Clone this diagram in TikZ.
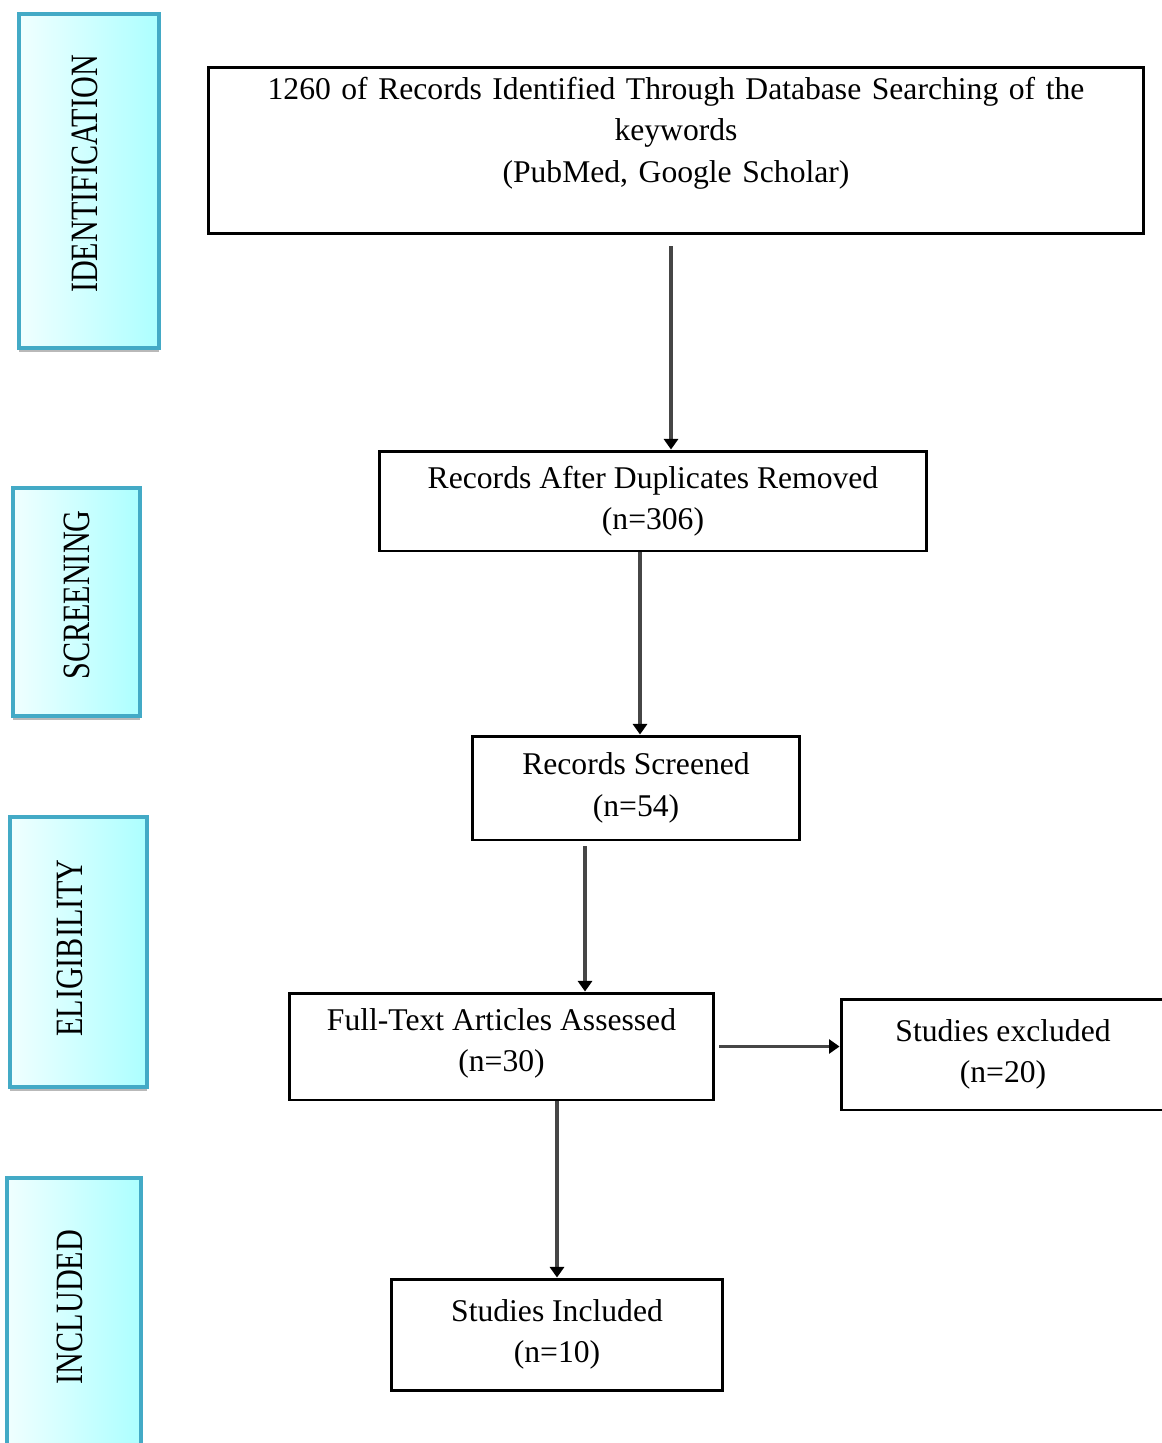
\documentclass[tikz,border=0pt]{standalone}
\usepackage{fontspec}
\setmainfont{Liberation Serif}
\usetikzlibrary{arrows.meta,shadows}
\definecolor{phaseline}{RGB}{67,170,198}
\definecolor{phaselight}{RGB}{240,255,255}
\definecolor{phasedark}{RGB}{172,255,255}
\tikzset{
	stagebox/.style={draw=black, line width=1.7pt, align=center, inner sep=0pt, font=\fontsize{18}{23.5}\selectfont},
	phasebox/.style={draw=phaseline, line width=2.2pt, left color=phaselight, right color=phasedark, drop shadow={shadow xshift=0pt, shadow yshift=-2.5pt, fill=gray!55, opacity=1}, inner sep=0pt},
	phasetext/.style={rotate=90, inner sep=0pt, font=\fontsize{22}{22}\selectfont},
	flow/.style={line width=2pt, draw=gray!55!black, -{Triangle[length=6pt,width=8pt,color=black]}},
}
\newcommand{\phasename}[1]{\scalebox{0.78}[1]{#1}}

\begin{document}
\begin{tikzpicture}[x=0.02cm, y=-0.02cm]
		\useasboundingbox (0, 0) rectangle (1161, 1443);

		\node[phasebox, minimum width=2.8cm, minimum height=6.68cm] at (89, 181) (idn) {};
		\node[phasebox, minimum width=2.54cm, minimum height=4.56cm] at (76.5, 602) (scr) {};
		\node[phasebox, minimum width=2.74cm, minimum height=5.4cm] at (78.5, 952) (elg) {};
		\node[phasebox, minimum width=2.68cm, minimum height=5.44cm] at (74, 1314) (inc) {};

		\node[phasetext] at (85, 174) (idntext) {\phasename{IDENTIFICATION}};
		\node[phasetext] at (77, 595) (scrtext) {\phasename{SCREENING}};
		\node[phasetext] at (70, 948) (elgtext) {\phasename{ELIGIBILITY}};
		\node[phasetext] at (70, 1307) (inctext) {\phasename{INCLUDED}};

		\node[stagebox, minimum width=18.72cm, minimum height=3.34cm, text width=17.5cm] at (676, 150.5) (box1) {1260 of Records Identified Through Database Searching of the\\ keywords\\ (PubMed, Google Scholar)\\ ~};
		\node[stagebox, minimum width=10.96cm, minimum height=2.0cm] at (653, 501) (box2) {Records After Duplicates Removed\\ (n=306)};
		\node[stagebox, minimum width=6.56cm, minimum height=2.08cm] at (636, 788) (box3) {Records Screened\\ (n=54)};
		\node[stagebox, minimum width=8.5cm, minimum height=2.14cm] at (501.5, 1046.5) (box4) {Full-Text Articles Assessed\\ (n=30)\\[-16pt] ~};
		\node[stagebox, minimum width=6.48cm, minimum height=2.22cm] at (1003, 1054.5) (box5) {Studies excluded\\ (n=20)};
		\node[stagebox, minimum width=6.64cm, minimum height=2.22cm] at (557, 1334.5) (box6) {Studies Included\\ (n=10)};

		\coordinate (a1) at ([xshift=-0.1cm]box1.south);
		\coordinate (a2) at ([xshift=0.08cm]box3.north);
		\coordinate (a3) at ([xshift=-1.02cm]box3.south);
		\draw[flow] ([yshift=-0.22cm]a1) -- (a1 |- box2.north);
		\draw[flow] (a2 |- box2.south) -- (a2);
		\draw[flow] ([yshift=-0.1cm]a3) -- (a3 |- box4.north);
		\draw[flow] ([xshift=0.08cm]box4.east) -- (box5.west |- box4.east);
		\draw[flow] (box6.north |- box4.south) -- (box6.north);
	\end{tikzpicture}
\end{document}
